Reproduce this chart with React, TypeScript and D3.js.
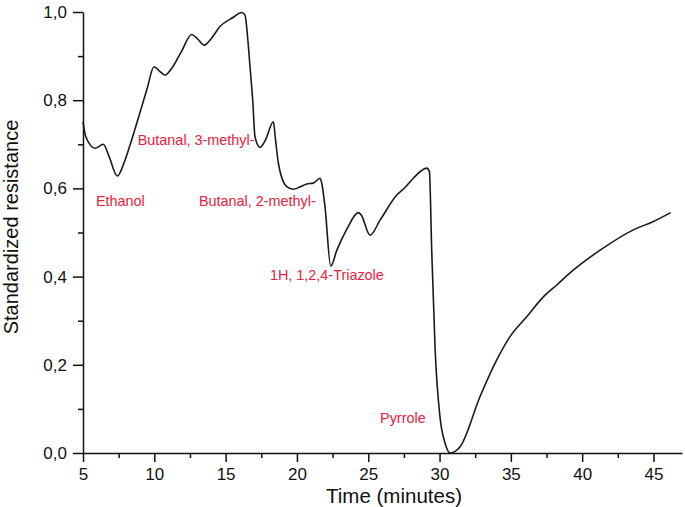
import React, { useEffect, useRef } from "react";
import * as d3 from "d3";

// sensor response (time in minutes, standardized resistance)
const timeMin = [
  5.0, 5.2, 5.84, 6.42, 6.8, 7.41, 7.9, 8.41, 9.47, 9.98, 10.4, 10.75, 11.1,
  11.9, 12.62, 13.0, 13.49, 14.0, 14.6, 15.54, 16.13, 16.36, 16.55, 16.71,
  16.9, 17.06, 17.41, 17.8, 18.35, 18.5, 18.7, 19.28, 19.75, 20.2, 20.69,
  21.15, 21.62, 21.75, 21.97, 22.37, 22.8, 23.49, 24.31, 24.5, 25.13, 25.83,
  27.0, 27.58, 28.16, 29.1, 29.29, 29.45, 29.69, 30.03, 30.39, 30.74, 31.44,
  32.84, 34.01, 34.94, 36.11, 37.28, 38.22, 39.39, 41.26, 43.59, 45.0, 46.21,
];
const resistance = [
  0.751, 0.717, 0.691, 0.7, 0.675, 0.628, 0.66, 0.71, 0.823, 0.876, 0.865,
  0.857, 0.867, 0.91, 0.949, 0.94, 0.925, 0.94, 0.967, 0.988, 0.999, 0.993,
  0.94, 0.876, 0.8, 0.717, 0.693, 0.71, 0.751, 0.71, 0.657, 0.604, 0.598,
  0.603, 0.61, 0.612, 0.623, 0.61, 0.558, 0.424, 0.46, 0.507, 0.545, 0.54,
  0.494, 0.528, 0.585, 0.602, 0.623, 0.646, 0.638, 0.46, 0.234, 0.082, 0.022,
  0.0, 0.014, 0.128, 0.211, 0.264, 0.309, 0.354, 0.381, 0.415, 0.46, 0.506,
  0.525, 0.545,
];

const compoundNames = [
  "Ethanol",
  "Butanal, 3-methyl-",
  "Butanal, 2-methyl-",
  "1H, 1,2,4-Triazole",
  "Pyrrole",
];
// anchor of each label in data units (left edge time, middle resistance)
const compoundTime = [5.91, 8.84, 13.13, 18.11, 25.83];
const compoundLevel = [0.571, 0.71, 0.571, 0.404, 0.079];

const xTicks = [5, 10, 15, 20, 25, 30, 35, 40, 45];
const xMinorTicks = [7.5, 12.5, 17.5, 22.5, 27.5, 32.5, 37.5, 42.5];
const yTicks = [0, 0.2, 0.4, 0.6, 0.8, 1.0];
const yMinorTicks = [0.1, 0.3, 0.5, 0.7, 0.9];

export default function App() {
  const svgRef = useRef<SVGSVGElement>(null);
  const width = 685;
  const height = 507;

  useEffect(() => {
    const svg = d3.select(svgRef.current);
    svg.selectAll("*").remove();

    const x = d3.scaleLinear().domain([5, 47]).range([83, 682]);
    const y = d3.scaleLinear().domain([0, 1]).range([453, 12]);
    const comma = (v: number, digits: number) =>
      v.toFixed(digits).replace(".", ",");

    svg
      .append("rect")
      .attr("width", width)
      .attr("height", height)
      .attr("fill", "#fff");

    // minor ticks first so the major axis draws on top
    const xMinor = svg
      .append("g")
      .attr("transform", `translate(0,${y(0)})`)
      .call(d3.axisBottom(x).tickValues(xMinorTicks).tickSize(5).tickFormat(() => ""));
    xMinor.select(".domain").remove();

    const yMinor = svg
      .append("g")
      .attr("transform", `translate(${x(5)},0)`)
      .call(d3.axisLeft(y).tickValues(yMinorTicks).tickSize(5).tickFormat(() => ""));
    yMinor.select(".domain").remove();

    const xAxis = svg
      .append("g")
      .attr("transform", `translate(0,${y(0)})`)
      .call(
        d3
          .axisBottom(x)
          .tickValues(xTicks)
          .tickSize(9)
          .tickSizeOuter(0)
          .tickPadding(6)
          .tickFormat((d) => String(d))
      );

    const yAxis = svg
      .append("g")
      .attr("transform", `translate(${x(5)},0)`)
      .call(
        d3
          .axisLeft(y)
          .tickValues(yTicks)
          .tickSize(10)
          .tickSizeOuter(0)
          .tickPadding(6)
          .tickFormat((d) => comma(d as number, 1))
      );

    [xAxis, yAxis, xMinor, yMinor].forEach((g) => {
      g.selectAll("line").attr("stroke", "#111").attr("stroke-width", 1.5);
      g.select(".domain").attr("stroke", "#111").attr("stroke-width", 1.5);
      g.selectAll("text")
        .attr("fill", "#111")
        .style("font-family", "'Liberation Sans', Arial, sans-serif")
        .style("font-size", "17px");
    });

    // curve
    const pts = timeMin.map((t, i) => [t, resistance[i]] as [number, number]);
    const line = d3
      .line<[number, number]>()
      .x((d) => x(d[0]))
      .y((d) => y(d[1]))
      .curve(d3.curveMonotoneX);

    svg
      .append("path")
      .datum(pts)
      .attr("d", line)
      .attr("fill", "none")
      .attr("stroke", "#1a1a1a")
      .attr("stroke-width", 1.6)
      .attr("stroke-linejoin", "round");

    // compound labels
    svg
      .append("g")
      .selectAll("text")
      .data(compoundNames)
      .enter()
      .append("text")
      .attr("x", (_, i) => x(compoundTime[i]))
      .attr("y", (_, i) => y(compoundLevel[i]))
      .attr("dy", "0.35em")
      .attr("fill", "#e6213c")
      .style("font-family", "'Liberation Sans', Arial, sans-serif")
      .style("font-size", "14.4px")
      .text((d) => d);

    // axis titles
    svg
      .append("text")
      .attr("x", 394)
      .attr("y", 503)
      .attr("text-anchor", "middle")
      .attr("fill", "#111")
      .style("font-family", "'Liberation Sans', Arial, sans-serif")
      .style("font-size", "20.5px")
      .text("Time (minutes)");

    svg
      .append("text")
      .attr("transform", "translate(18,227) rotate(-90)")
      .attr("text-anchor", "middle")
      .attr("fill", "#111")
      .style("font-family", "'Liberation Sans', Arial, sans-serif")
      .style("font-size", "20px")
      .text("Standardized resistance");
  }, []);

  return (
    <svg
      ref={svgRef}
      width={width}
      height={height}
      style={{ position: "absolute", left: 0, top: 0, display: "block" }}
    ></svg>
  );
}
